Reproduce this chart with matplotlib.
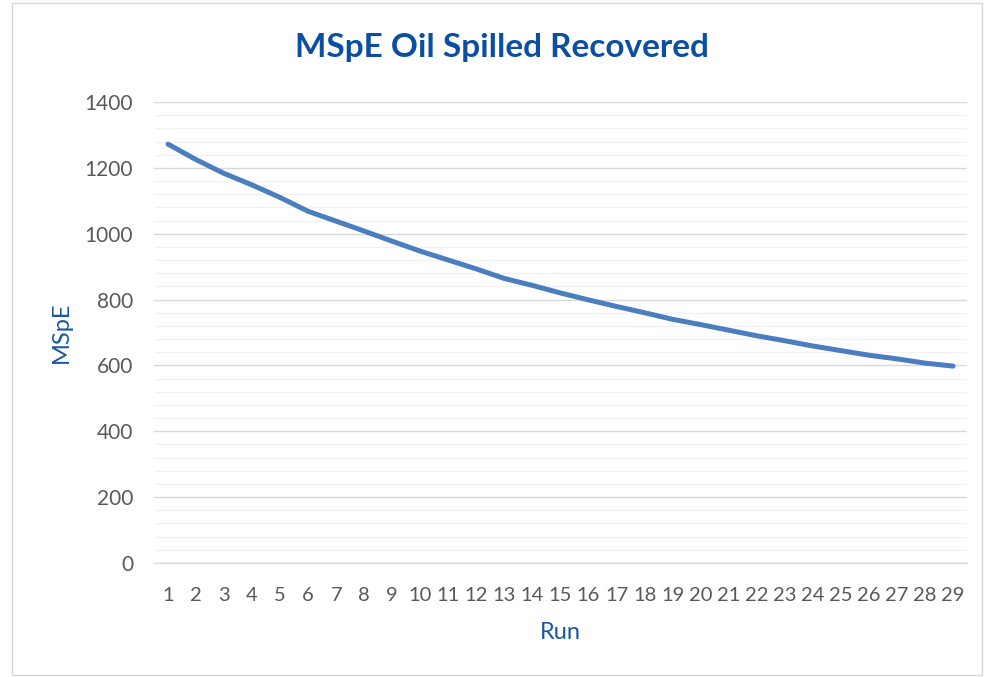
"""MSpE of oil spilled recovered, per run (Excel-style line chart)."""
import matplotlib
matplotlib.use("Agg")
import matplotlib.pyplot as plt
from matplotlib.patches import Rectangle
from matplotlib.ticker import MultipleLocator

runs = list(range(1, 30))
mspe = [1272, 1225, 1183, 1148, 1110, 1068, 1038, 1008, 977, 947,
        920, 893, 864, 843, 820, 799, 779, 760, 740, 724,
        707, 690, 675, 659, 645, 631, 620, 607, 598]
y_ticks = [0, 200, 400, 600, 800, 1000, 1200, 1400]

plt.rcParams.update({"font.family": ["Lato", "DejaVu Sans"]})

fig = plt.figure(figsize=(9.84, 6.77), dpi=100)
ax = fig.add_axes([154 / 984, 114 / 677, 813 / 984, 461 / 677])

ax.plot(runs, mspe, color="#4A7EBF", lw=3.6, solid_capstyle="round",
        solid_joinstyle="round", zorder=3)

ax.set_xlim(0.5, 29.5)
ax.set_ylim(0, 1400)
ax.set_xticks(runs)
ax.set_yticks(y_ticks)
ax.yaxis.set_minor_locator(MultipleLocator(40))
ax.grid(axis="y", which="major", color="#D9D9D9", lw=1.0)
ax.grid(axis="y", which="minor", color="#F2F2F2", lw=1.0)
ax.set_axisbelow(True)
for s in ("top", "right", "left"):
    ax.spines[s].set_visible(False)
ax.spines["bottom"].set_color("#D9D9D9")
ax.spines["bottom"].set_linewidth(1.0)
ax.tick_params(axis="both", which="both", length=0, labelcolor="#595959")
ax.tick_params(axis="x", pad=17, labelsize=14.5)
ax.tick_params(axis="y", pad=15, labelsize=15)

ax.set_xlabel("Run", fontsize=17, color="#1A56A4", labelpad=13)
ax.set_ylabel("MSpE", fontsize=17, color="#1A56A4", labelpad=9)

fig.text(0.51, 0.93, "MSpE Oil Spilled Recovered", ha="center", va="center",
         fontsize=24, fontweight="bold", color="#0B4EA2")

fig.patches.append(Rectangle((12 / 984, 2 / 677), 970 / 984, 672 / 677,
                             transform=fig.transFigure, fill=False,
                             edgecolor="#D9D9D9", lw=1.0))

fig.savefig("out.png", dpi=100)
